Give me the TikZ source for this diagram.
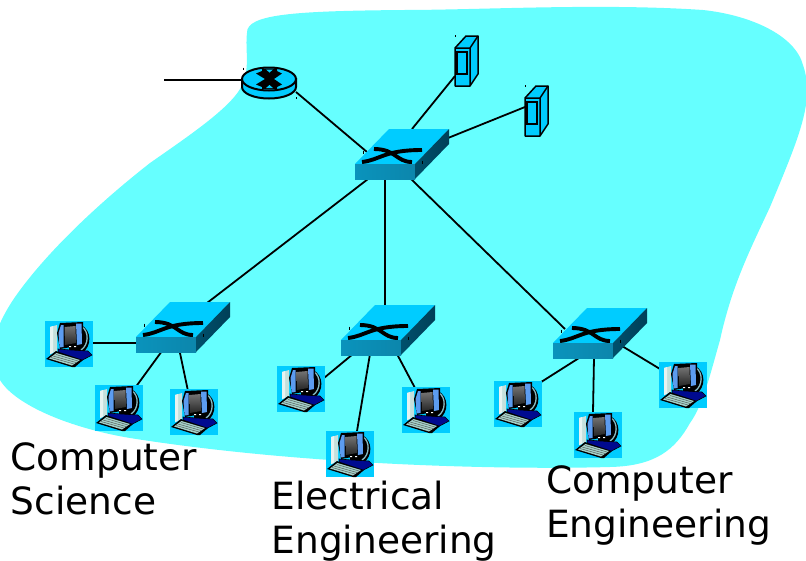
\documentclass[tikz,border=0pt]{standalone}
\usepackage{fontspec}
\setmainfont{DejaVu Sans}
\usetikzlibrary{calc}
\definecolor{blobc}{HTML}{66FFFF}
\definecolor{devc}{HTML}{00CCFF}
\definecolor{frontA}{HTML}{0A93BC}
\definecolor{frontB}{HTML}{0C86AC}
\definecolor{sideA}{HTML}{00506C}
\definecolor{sideB}{HTML}{004058}
\definecolor{towerc}{HTML}{C4E0DC}
\definecolor{bezel}{HTML}{5C9CF0}
\definecolor{navyc}{HTML}{000A90}
\definecolor{keyc}{HTML}{A4D0C8}
\definecolor{standc}{HTML}{88BCC4}
\tikzset{
  swnode/.style={inner sep=0pt,minimum width=94pt,minimum height=50pt},
  rtnode/.style={inner sep=0pt,minimum width=54pt,minimum height=30pt},
  svnode/.style={inner sep=0pt,minimum width=23pt,minimum height=50pt},
  pcnode/.style={inner sep=0pt,minimum width=48pt,minimum height=46pt},
  link/.style={line width=1.8pt,black},
  lbl/.style={inner sep=0pt,anchor=north west,align=left,font=\fontsize{37.5}{44}\selectfont},
  switchicon/.pic={
    \fill[devc] (-47,10)--(-13,-25)--(47,-25)--(13,10)--cycle;
    \shade[left color=frontA,right color=frontB] (-47,10) rectangle (13,25);
    \shade[left color=sideA,right color=sideB] (13,10)--(47,-25)--(47,-10)--(13,25)--cycle;
    \draw[line width=3.9pt] (-40,8) .. controls (-22,6) and (-18,-4) .. (20,-4);
    \draw[line width=3.9pt] (-28,-5) .. controls (-6,-5) and (-6,8) .. (10,8);
    \draw[line width=.6pt] (-39,-3.5)--(-39,-.5) (20,6.5)--(20,9.5);
  },
  routericon/.pic={
    \filldraw[fill=devc,line width=2pt] (-27,-4) -- (-27,4) arc[start angle=180,end angle=0,x radius=27,y radius=11.5] -- (27,-4) -- cycle;
    \filldraw[fill=devc,line width=2pt] (0,-4) ellipse[x radius=27,y radius=11.5];
    \begin{scope}[shift={(0,-4)}]
    \fill (-7,-10.5)--(8,-10.5)--(8,-8)--(13,-5.5)--(5,0)--(13,5.5)--(8,8)--(8,10)--(-7,10)--(-7,8)--(-13,5.5)--(-4,0)--(-13,-5.5)--(-7,-8)--cycle;
    \fill[devc] (-3,-9.5)--(4,-9.5)--(.5,-6.5)--cycle (-3,9)--(4,9)--(.5,6)--cycle;
    \end{scope}
    \draw[line width=.6pt] (-26,-15.5)--(-26,-13.5) (27,14)--(27,16);
  },
  servericon/.pic={
    \begin{scope}[shift={(-11.5,-25)}]
    \filldraw[fill=devc,line width=1.5pt,line join=round] (0,12)--(11,0)--(23,0)--(23,38)--(15,50)--(0,50)--cycle;
    \draw[line width=1.5pt] (0,12)--(15,12)--(23,0) (15,12)--(15,50);
    \draw[line width=1.8pt] (2,16)rectangle(12,38);
    \draw[line width=.6pt] (.5,-1)--(.5,1);
    \end{scope}
  },
  pcicon/.pic={
    \begin{scope}[shift={(-24,-23)}]
    \fill[devc] (0,0) rectangle (48,46);
    \fill[towerc] (5,6)--(12,4)--(12,30)--(5,33)--cycle;
    \fill[white!60!towerc] (5,6)--(8,5)--(8,32)--(5,33)--cycle;
    \fill[black] (36,4) .. controls (47,9) and (47,26) .. (37,32) -- (24,30) -- (24,4) -- cycle;
    \draw[standc,line width=1.3pt] (37,6) .. controls (44,10) and (44,24) .. (36,29);
    \fill[navyc,draw=black,line width=.6pt] (13,28)--(26,29)--(43,30)--(47,34)--(30,43)--(14,36)--cycle;
    \fill[black] (12,12)--(15,2)--(38,1)--(38,24)--(15,28)--cycle;
    \fill[bezel] (13.5,12)--(16,4)--(18.5,4)--(18.5,26)--(14.5,26.5)--cycle;
    \fill[bezel] (31,2.5)--(36.5,2.5)--(37,23)--(32,24)--cycle;
    \shade[top color=black!55,bottom color=black!85] (19.5,6)--(30.5,5)--(31,22)--(20,24)--cycle;
    \fill[white] (24,25) rectangle +(2,1.2) (29,25) rectangle +(2,1.2);
    \fill[black] (1,38)--(11,30)--(38,39)--(30,46)--(27,46)--cycle;
    \fill[keyc] (4,37.5)--(11.5,32)--(35,39)--(27,44.5)--cycle;
    \draw[black!70,line width=.4pt] (8,35)--(31,41.5) (11,33.5)--(33,40) (6,36.5)--(29,43);
    \end{scope}
  },
}
\begin{document}
\begin{tikzpicture}[x=1pt,y=-1pt]
\useasboundingbox (0,0) rectangle (806,560);
\begin{scope}
\clip (0,0) rectangle (806,560);
\fill[blobc] (247,33) .. controls (246,14) and (295,11) .. (403,10)
  .. controls (480,10) and (600,3) .. (703,10)
  .. controls (750,15) and (795,35) .. (803,65)
  .. controls (815,100) and (800,135) .. (770,207)
  .. controls (750,250) and (732,285) .. (720,340)
  .. controls (710,375) and (703,405) .. (690,423)
  .. controls (675,450) and (655,466) .. (610,467)
  .. controls (500,470) and (300,465) .. (130,438)
  .. controls (70,428) and (15,405) .. (0,380)
  .. controls (-12,360) and (-10,335) .. (13,300)
  .. controls (40,260) and (90,210) .. (150,163)
  .. controls (190,135) and (235,105) .. (243,83)
  .. controls (250,65) and (245,50) .. (247,33) -- cycle;
\end{scope}
% devices (placed first so that links can name them; drawn on top below)
\node[rtnode] (router) at (269,83) {};
\node[swnode] (sw0) at (402,154) {};
\node[swnode] (sw1) at (183,327) {};
\node[swnode] (sw2) at (388,330) {};
\node[swnode] (sw3) at (600,333) {};
\node[svnode] (srv1) at (466.5,61) {};
\node[svnode] (srv2) at (536.5,111) {};
\node[pcnode] (pc11) at (69,344) {};
\node[pcnode] (pc12) at (119,408) {};
\node[pcnode] (pc13) at (194,412) {};
\node[pcnode] (pc21) at (301,389) {};
\node[pcnode] (pc22) at (350,454) {};
\node[pcnode] (pc23) at (426,410) {};
\node[pcnode] (pc31) at (518,404) {};
\node[pcnode] (pc32) at (598,435) {};
\node[pcnode] (pc33) at (683,385) {};
\coordinate (ext) at (164,80);
% links
\draw[link] (ext) -- ([shift={(-20,-3)}]router.center);
\draw[link] ([shift={(27,9)}]router.center) -- ([shift={(-35,-2)}]sw0.center);
\draw[link] ([shift={(10,-25)}]sw0.center) -- ([shift={(-11.5,15)}]srv1.center);
\draw[link] ([shift={(46,-16)}]sw0.center) -- ([shift={(-11.5,-4)}]srv2.center);
\draw[link] ([shift={(-34,25)}]sw0.center) -- ([shift={(24,-24)}]sw1.center);
\draw[link] ([shift={(-17,25)}]sw0.center) -- ([shift={(-3,-25)}]sw2.center);
\draw[link] ([shift={(9,25)}]sw0.center) -- ([shift={(-35,-4)}]sw3.center);
\draw[link] ([shift={(-47,16)}]sw1.center) -- ([shift={(21,-1)}]pc11.center);
\draw[link] ([shift={(-21,24)}]sw1.center) -- ([shift={(16,-20)}]pc12.center);
\draw[link] ([shift={(-3,26)}]sw1.center) -- ([shift={(-6,-21)}]pc13.center);
\draw[link] ([shift={(-35,24)}]sw2.center) -- ([shift={(23,-11)}]pc21.center);
\draw[link] ([shift={(-18,24)}]sw2.center) -- ([shift={(7,-23)}]pc22.center);
\draw[link] ([shift={(9,24)}]sw2.center) -- ([shift={(-11,-22)}]pc23.center);
\draw[link] ([shift={(-21,25)}]sw3.center) -- ([shift={(20,-20)}]pc31.center);
\draw[link] ([shift={(-6,25)}]sw3.center) -- ([shift={(-5,-23)}]pc32.center);
\draw[link] ([shift={(22,13)}]sw3.center) -- ([shift={(-18,-13)}]pc33.center);
% icons
\pic at (router.center) {routericon};
\foreach \n in {sw0,sw1,sw2,sw3} {\pic at (\n.center) {switchicon};}
\foreach \n in {srv1,srv2} {\pic at (\n.center) {servericon};}
\foreach \n in {pc11,pc12,pc13,pc21,pc22,pc23,pc31,pc32,pc33} {\pic at (\n.center) {pcicon};}
% labels
\node[lbl] (cs) at (10.5,442) {Computer\\Science};
\node[lbl] (ee) at (271.5,481) {Electrical\\Engineering};
\node[lbl] (ce) at (546,465) {Computer\\Engineering};
\end{tikzpicture}
\end{document}
